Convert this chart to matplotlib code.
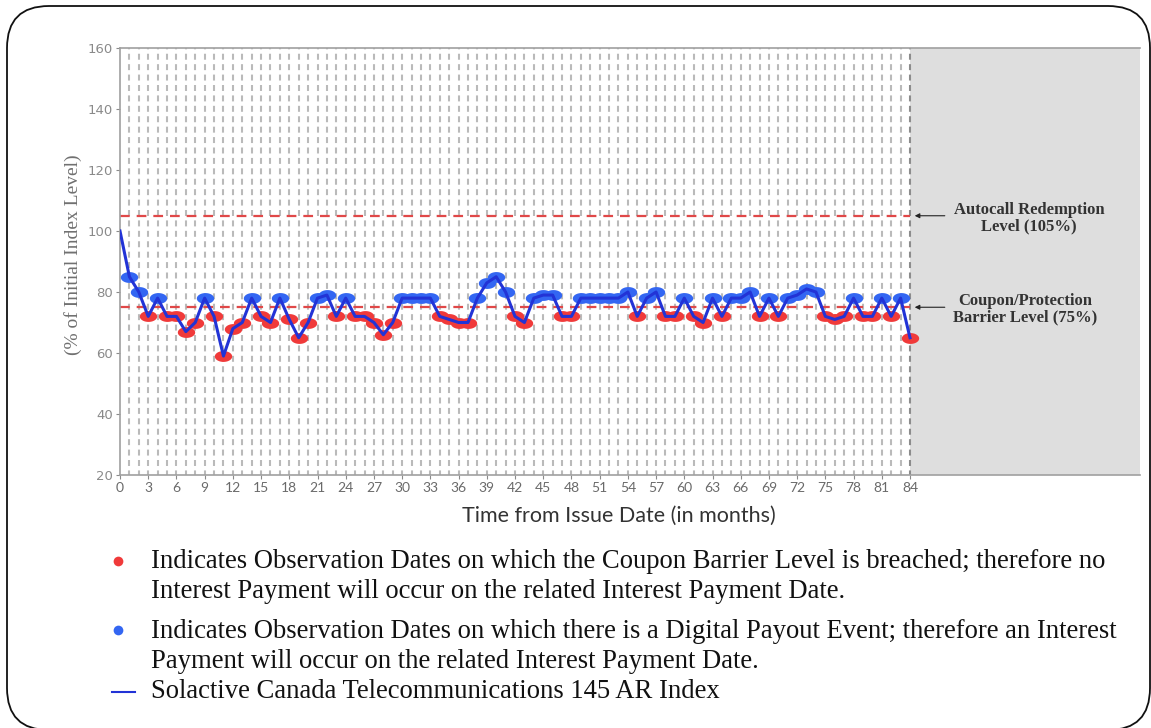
# Autocall note - hypothetical index chart
import numpy as np
import matplotlib
matplotlib.use('Agg')
import matplotlib.pyplot as plt
from matplotlib.path import Path
from matplotlib.lines import Line2D
from matplotlib.patches import FancyBboxPatch

plt.rcParams['lines.scale_dashes'] = False

W, H = 1151, 728

###################### Data ##############################
# month 0 is the initial level (no marker)
months = list(range(0, 85))
levels = [100,
          85, 80, 72, 78, 72, 72, 67, 70, 78, 72,
          59, 68, 70, 78, 72, 70, 78, 71, 65, 70,
          78, 79, 72, 78, 72, 72, 70, 66, 70, 78,
          78, 78, 78, 72, 71, 70, 70, 78, 83, 85,
          80, 72, 70, 78, 79, 79, 72, 72, 78, 78,
          78, 78, 78, 80, 72, 78, 80, 72, 72, 78,
          72, 70, 78, 72, 78, 78, 80, 72, 78, 72,
          78, 79, 81, 80, 72, 71, 72, 78, 72, 72,
          78, 72, 78, 65]
xticks = list(range(0, 85, 3))
yticks = list(range(20, 161, 20))
autocall_level = 105
barrier_level = 75
maturity = 84

LINE_BLUE = '#2233d6'
DOT_BLUE = '#3366f2'
DOT_RED = '#f03a3a'
DASH_RED = '#e04848'


# pixel -> figure fraction
def fx(px):
    return px / W


def fy(py):
    return 1 - py / H


###################### Figure ##############################
fig = plt.figure(figsize=(W / 100, H / 100), dpi=100)
ax = fig.add_axes([fx(120), fy(475), fx(1140) - fx(120), fy(48) - fy(475)])

x_end = maturity * (1140 - 120) / (910 - 120)
ax.set_xlim(0, x_end)
ax.set_ylim(20, 160)

# grey zone after maturity
ax.axvspan(maturity, x_end, color='#dedede', zorder=0, lw=0)

# monthly dashed grid
for m in months[1:]:
    c = '#bababa' if m < maturity else '#8c8c8c'
    ax.axvline(m, color=c, lw=1.5, linestyle=(1, (4.3, 3.2)), zorder=1)

# barrier lines
for lvl in [autocall_level, barrier_level]:
    ax.plot([0, maturity], [lvl, lvl], color=DASH_RED, lw=1.6,
            linestyle=(0, (7, 5)), zorder=2)

# elliptical markers
t = np.linspace(0, 2 * np.pi, 60)
ellipse = Path(np.column_stack([1.6 * np.cos(t), np.sin(t)]), closed=True)

obs_m = np.array(months[1:])
obs_v = np.array(levels[1:])
red = obs_v < barrier_level
ax.plot(obs_m[red], obs_v[red], linestyle='none', marker=ellipse, ms=12.5,
        color=DOT_RED, mec='none', zorder=3)
ax.plot(obs_m[~red], obs_v[~red], linestyle='none', marker=ellipse, ms=12.5,
        color=DOT_BLUE, mec='none', zorder=3)
ax.plot(months, levels, color=LINE_BLUE, lw=2.2, solid_joinstyle='round', zorder=4)

# axes styling
for s in ['left', 'bottom', 'top']:
    ax.spines[s].set_color('#a0a0a0')
    ax.spines[s].set_linewidth(1.2)
ax.spines['right'].set_visible(False)
ax.set_xticks(xticks)
ax.set_yticks(yticks)
ax.tick_params(axis='x', colors='#8a8a8a', length=3, labelsize=10, pad=2)
ax.tick_params(axis='y', colors='#8a8a8a', length=3, labelsize=9.5, pad=2)
for lab in ax.get_xticklabels():
    lab.set_fontfamily('Lato')
    lab.set_color('#6a6a6a')
for lab in ax.get_yticklabels():
    lab.set_color('#8a8a8a')

ax.set_xlabel('Time from Issue Date (in months)', fontfamily='Lato',
              fontsize=15.5, color='#333333', labelpad=2)
ax.xaxis.set_label_coords((619 - 120) / (1140 - 120), -0.072)
ax.set_ylabel('(% of Initial Index Level)', fontfamily='Liberation Serif',
              fontsize=14, color='#707070')
ax.yaxis.set_label_coords(-0.037, 0.515)

# level annotations
text_x = maturity + (1029 - 910) / 9.405
ax.text(text_x, autocall_level - 0.7, 'Autocall Redemption\nLevel (105%)',
        ha='center', va='center', fontfamily='Liberation Serif',
        fontweight='bold', fontsize=12, color='#333333', linespacing=1.05)
ax.text(text_x - 0.4, barrier_level - 0.7, 'Coupon/Protection\nBarrier Level (75%)',
        ha='center', va='center', fontfamily='Liberation Serif',
        fontweight='bold', fontsize=12, color='#333333', linespacing=1.05)
for lvl in [autocall_level, barrier_level]:
    ax.annotate('', xy=(maturity + 0.5, lvl), xytext=(maturity + 3.7, lvl),
                arrowprops=dict(arrowstyle='-|>', color='#222222', lw=0.8,
                                mutation_scale=7, shrinkA=0, shrinkB=0))

###################### Legend below ##############################
leg_font = dict(fontfamily='Liberation Serif', fontsize=19.2, color='#111111',
                va='center', ha='left')
fig.add_artist(Line2D([fx(118)], [fy(561)], marker='o', ms=7, color=DOT_RED,
                      mec='none', transform=fig.transFigure))
fig.text(fx(151), fy(562), 'Indicates Observation Dates on which the Coupon Barrier '
         'Level is breached; therefore no', **leg_font)
fig.text(fx(151), fy(592), 'Interest Payment will occur on the related Interest '
         'Payment Date.', **leg_font)
fig.add_artist(Line2D([fx(118)], [fy(630)], marker='o', ms=7, color=DOT_BLUE,
                      mec='none', transform=fig.transFigure))
fig.text(fx(151), fy(632), 'Indicates Observation Dates on which there is a Digital '
         'Payout Event; therefore an Interest', **leg_font)
fig.text(fx(151), fy(662), 'Payment will occur on the related Interest Payment Date.',
         **leg_font)
fig.add_artist(Line2D([fx(112), fx(135)], [fy(692), fy(692)], color=LINE_BLUE,
                      lw=1.5, transform=fig.transFigure))
fig.text(fx(151), fy(691), 'Solactive Canada Telecommunications 145 AR Index',
         **leg_font)

# rounded outer frame
frame = FancyBboxPatch((0.07, -0.02), 11.43, 7.24,
                       boxstyle='round,pad=0,rounding_size=0.42',
                       transform=fig.dpi_scale_trans, fill=False,
                       ec='#111111', lw=1.3)
fig.add_artist(frame)

fig.savefig('out.png', dpi=100)
